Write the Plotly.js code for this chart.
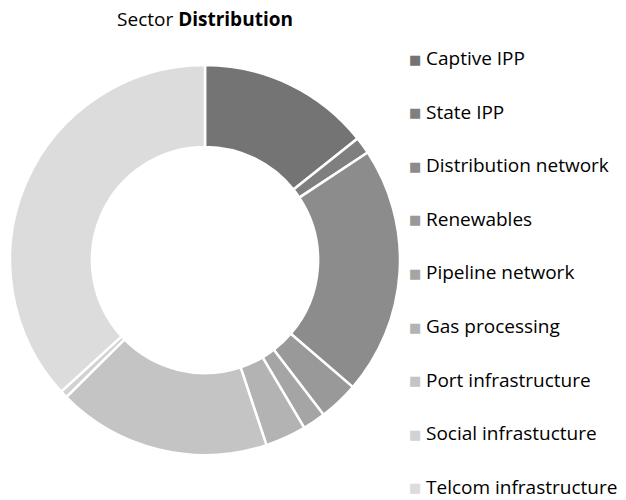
<!DOCTYPE html>
<html>
<head>
<meta charset="utf-8">
<script src="https://cdn.plot.ly/plotly-3.0.1.min.js"></script>
<style>html,body{margin:0;padding:0;background:#fff;}#chart{width:626px;height:500px;}</style>
</head>
<body>
<div id="chart"></div>
<script>
const sectors = ["Captive IPP", "State IPP", "Distribution network", "Renewables", "Pipeline network", "Gas processing", "Port infrastructure", "Social infrastucture", "Telcom infrastructure"];
const shares = [14.3, 1.4, 20.6, 3.3, 1.9, 3.4, 17.7, 0.6, 36.8];
const sliceColors = ["#747474", "#7f7f7f", "#8c8c8c", "#999999", "#a5a5a5", "#b3b3b3", "#c4c4c4", "#d2d2d2", "#dcdcdc"];

const W = 626, H = 500;
const cx = 205, cy = 260, R = 195;
const FONT = "'Open Sans', 'Noto Sans', sans-serif";

const legendTop = 58, legendStep = 53.6;
const annotations = [];
sectors.forEach((name, i) => {
  const yPix = legendTop + i * legendStep;
  annotations.push({
    xref: 'paper', yref: 'paper', x: 415 / W, y: 1 - (yPix + 1) / H,
    xanchor: 'center', yanchor: 'middle', showarrow: false,
    text: '■', font: {family: "'DejaVu Sans', sans-serif", size: 13, color: sliceColors[i]}
  });
  annotations.push({
    xref: 'paper', yref: 'paper', x: 424 / W, y: 1 - yPix / H,
    xanchor: 'left', yanchor: 'middle', showarrow: false,
    text: name, font: {family: FONT, size: 19, color: '#000000'}
  });
});

const data = [{
  type: 'pie',
  labels: sectors,
  values: shares,
  hole: 0.58,
  sort: false,
  direction: 'clockwise',
  rotation: 0,
  textinfo: 'none',
  hoverinfo: 'label+percent',
  marker: {colors: sliceColors, line: {color: '#ffffff', width: 2.5}},
  domain: {x: [(cx - R) / W, (cx + R) / W], y: [1 - (cy + R) / H, 1 - (cy - R) / H]},
  showlegend: false
}];

const layout = {
  width: W, height: H,
  margin: {l: 0, r: 0, t: 0, b: 0},
  paper_bgcolor: '#ffffff',
  title: {
    text: 'Sector <b>Distribution</b>',
    x: cx / W, xanchor: 'center', xref: 'paper',
    y: 1 - 19 / H, yanchor: 'middle', yref: 'paper',
    font: {family: FONT, size: 19, color: '#000000'}
  },
  showlegend: false,
  annotations: annotations
};

Plotly.newPlot('chart', data, layout, {displayModeBar: false, staticPlot: true});
</script>
</body>
</html>
